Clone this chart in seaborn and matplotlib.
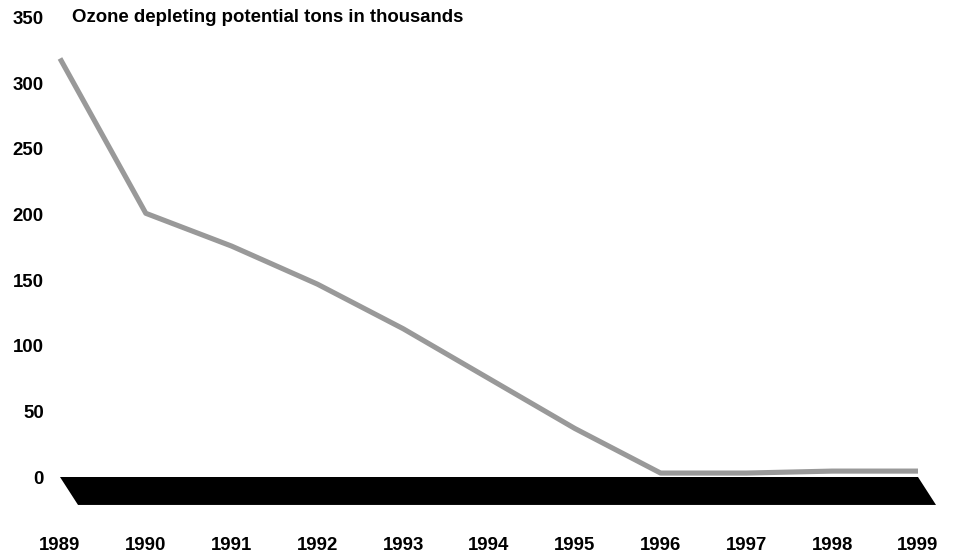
import matplotlib
matplotlib.use("Agg")
import matplotlib.pyplot as plt
import seaborn as sns
import pandas as pd

# Ozone depleting potential, thousands of tons
years = [1989, 1990, 1991, 1992, 1993, 1994, 1995, 1996, 1997, 1998, 1999]
odp_tons = [319, 201, 176, 147, 113, 75, 37, 3, 3, 4.5, 4.5]
y_ticks = [0, 50, 100, 150, 200, 250, 300, 350]
title = "Ozone depleting potential tons in thousands"

sns.set_theme(style="white")
plt.rcParams["font.family"] = ["Liberation Sans", "DejaVu Sans"]
plt.rcParams["font.weight"] = "bold"

W, H = 957, 555
fig = plt.figure(figsize=(W / 100, H / 100), dpi=100)
# axes placed in pixel units
left_px, right_px, top_px, bottom_px = 50, 950, 10, 520
ax = fig.add_axes([left_px / W, 1 - bottom_px / H,
                   (right_px - left_px) / W, (bottom_px - top_px) / H])

df = pd.DataFrame({"year": years, "odp": odp_tons})

# flat black floor under the line, slanted at both ends
depth = 21.3
slant = 0.21
floor_x = [years[0], years[-1], years[-1] + slant, years[0] + slant]
floor_y = [0, 0, -depth, -depth]
ax.fill(floor_x, floor_y, color="black", lw=0, zorder=1)

sns.lineplot(data=df, x="year", y="odp", ax=ax, color="#999999",
             linewidth=3.7, zorder=3, solid_capstyle="butt")

# data limits from pixel scale: 85.8 px per year, 1.312 px per unit
px_year, px_unit = 85.8, 1.312
x0_px, y0_px = 60, 477
ax.set_xlim(years[0] + (left_px - x0_px) / px_year,
            years[0] + (right_px - x0_px) / px_year)
ax.set_ylim((y0_px - bottom_px) / px_unit, (y0_px - top_px) / px_unit)

fs = 13.4
ax.set_xticks(years)
ax.set_xticklabels([str(y) for y in years])
ax.set_yticks(y_ticks)
ax.set_yticklabels([str(v) for v in y_ticks])
ax.tick_params(axis="both", length=0, labelsize=fs, labelcolor="black")
ax.tick_params(axis="y", pad=4.5)
ax.tick_params(axis="x", pad=12.5)
for lab in ax.get_xticklabels() + ax.get_yticklabels():
    lab.set_fontweight("bold")

ax.set_xlabel("")
ax.set_ylabel("")
for s in ax.spines.values():
    s.set_visible(False)
ax.grid(False)

ax.text(years[0] + (72 - x0_px) / px_year, y_ticks[-1], title,
        ha="left", va="center", fontsize=fs, fontweight="bold", color="black")

fig.savefig("out.png", dpi=100)
